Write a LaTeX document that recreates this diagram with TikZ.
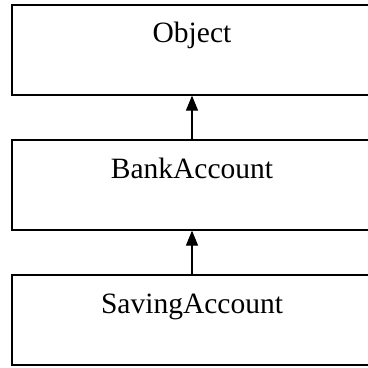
\documentclass[tikz,border=0pt]{standalone}
\usepackage{fontspec}
\setmainfont{Liberation Serif}
\usetikzlibrary{arrows.meta}
\tikzset{
  classbox/.style={draw, line width=1.6pt, minimum width=360pt, minimum height=90pt, anchor=north, inner sep=0pt},
  classname/.style={font=\fontsize{29.5}{33}\selectfont, inner sep=0pt, anchor=base},
}
\begin{document}
\begin{tikzpicture}[x=1pt, y=1pt, >={Triangle[width=12pt,length=15pt]}]
    \useasboundingbox (0,0) rectangle (368,-368);
    % class boxes
    \node[classbox] (object) at (192,-4) {};
    \node[classbox] (bank)   at (192,-139) {};
    \node[classbox] (saving) at (192,-274) {};
    \node[classname] (objectname) at ([yshift=-38.5pt]object.north) {Object};
    \node[classname] (bankname)   at ([yshift=-39pt]bank.north) {BankAccount};
    \node[classname] (savingname) at ([yshift=-39pt]saving.north) {SavingAccount};
    % inheritance
    \draw[->, line width=1.2pt] (bank.north) -- (object.south);
    \draw[->, line width=1.2pt] (saving.north) -- (bank.south);
\end{tikzpicture}
\end{document}
